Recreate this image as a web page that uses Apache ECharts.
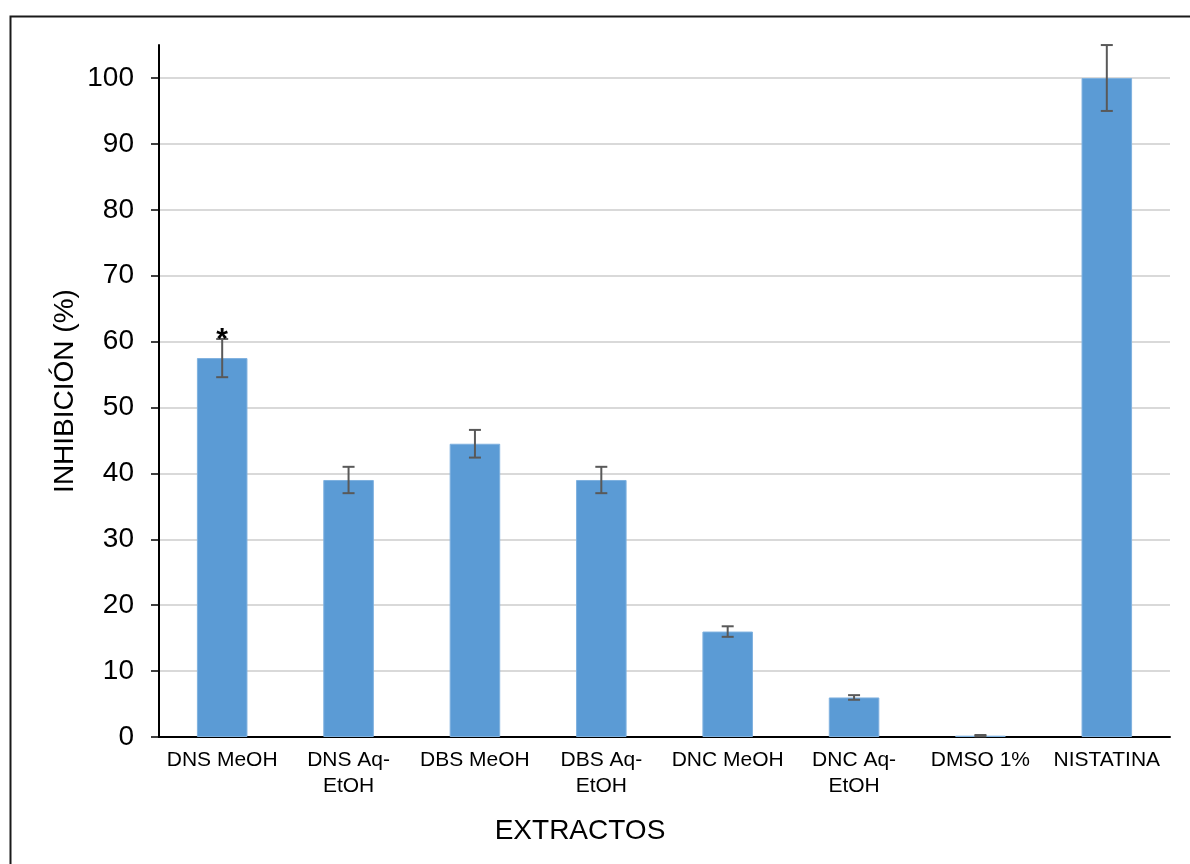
<!DOCTYPE html>
<html>
<head>
<meta charset="utf-8">
<title>Inhibición por extracto</title>
<script src="https://cdn.jsdelivr.net/npm/echarts@6/dist/echarts.min.js"></script>
<style>
  html, body { margin: 0; padding: 0; background: #ffffff; }
  #chart { width: 1190px; height: 864px; }
</style>
</head>
<body>
<div id="chart"></div>
<script>
// Extracts tested and their mean inhibition (%) with standard error
const categories = ['DNS MeOH', 'DNS Aq-\nEtOH', 'DBS MeOH', 'DBS Aq-\nEtOH', 'DNC MeOH', 'DNC Aq-\nEtOH', 'DMSO 1%', 'NISTATINA'];
const inhibition = [57.5, 39.0, 44.5, 39.0, 16.0, 6.0, 0.2, 100];
const errors = [2.9, 2.0, 2.1, 2.0, 0.8, 0.35, 0.1, 5];
const significance = ['*', '', '', '', '', '', '', ''];
const yTicks = { min: 0, max: 100, interval: 10 };
const axisTop = 105;

const FONT = 'Liberation Sans, Arial, sans-serif';
const chart = echarts.init(document.getElementById('chart'));

const errorData = inhibition.map((v, i) => [i, v, errors[i]]);

chart.setOption({
  animation: false,
  backgroundColor: '#ffffff',
  grid: [
    { left: 159, right: 20, top: 78, bottom: 127 },
    { left: 159, right: 20, top: 45, bottom: 127 }
  ],
  xAxis: [
    {
      type: 'category', gridIndex: 0, data: categories,
      axisLine: { lineStyle: { color: '#000000', width: 2 } },
      axisTick: { show: false },
      axisLabel: { color: '#000000', fontFamily: FONT, fontSize: 21, lineHeight: 26, margin: 10, interval: 0 }
    },
    { type: 'category', gridIndex: 1, data: categories, show: false }
  ],
  yAxis: [
    {
      type: 'value', gridIndex: 0,
      min: yTicks.min, max: yTicks.max, interval: yTicks.interval,
      axisLine: { show: true, lineStyle: { color: '#000000', width: 2 } },
      axisTick: { show: true, length: 8, lineStyle: { color: '#000000', width: 1.5 } },
      axisLabel: { color: '#000000', fontFamily: FONT, fontSize: 28, margin: 25 },
      splitLine: { show: true, lineStyle: { color: '#d9d9d9', width: 2 } }
    },
    {
      // upper extension of the vertical axis, carrying the axis title
      type: 'value', gridIndex: 1, min: 0, max: axisTop,
      axisLine: { show: true, lineStyle: { color: '#000000', width: 2 } },
      axisTick: { show: false }, axisLabel: { show: false }, splitLine: { show: false },
      name: 'INHIBICIÓN (%)', nameLocation: 'middle', nameGap: 80,
      nameTextStyle: { color: '#000000', fontFamily: FONT, fontSize: 28 }
    }
  ],
  series: [
    {
      type: 'bar', xAxisIndex: 0, yAxisIndex: 0,
      data: inhibition,
      barCategoryGap: '60%',
      itemStyle: { color: '#5b9bd5', borderColor: '#7fb1df', borderWidth: 1 },
      z: 2
    },
    {
      type: 'custom', xAxisIndex: 0, yAxisIndex: 0,
      data: errorData,
      clip: false,
      z: 5,
      renderItem: function (params, api) {
        const idx = api.value(0);
        const v = api.value(1);
        const e = api.value(2);
        const mark = significance[idx];
        const hi = api.coord([idx, v + e]);
        const lo = api.coord([idx, v - e]);
        const half = 6;
        const style = { stroke: '#595959', lineWidth: 2 };
        const children = [
          { type: 'line', shape: { x1: hi[0], y1: hi[1], x2: lo[0], y2: lo[1] }, style: style },
          { type: 'line', shape: { x1: hi[0] - half, y1: hi[1], x2: hi[0] + half, y2: hi[1] }, style: style },
          { type: 'line', shape: { x1: lo[0] - half, y1: lo[1], x2: lo[0] + half, y2: lo[1] }, style: style }
        ];
        if (mark) {
          children.push({
            type: 'text', x: hi[0], y: hi[1] + 1,
            style: { text: mark, fill: '#000000', font: 'bold 30px ' + FONT, align: 'center', verticalAlign: 'middle' }
          });
        }
        return { type: 'group', children: children };
      }
    }
  ],
  graphic: [
    {
      type: 'rect', left: 8, top: 14, silent: true,
      shape: { width: 1200, height: 900 },
      style: { fill: 'none', stroke: '#1a1a1a', lineWidth: 2 }
    },
    {
      type: 'text', x: 580, y: 831, silent: true,
      style: { text: 'EXTRACTOS', fill: '#000000', font: '28px ' + FONT, align: 'center', verticalAlign: 'middle' }
    }
  ]
});
</script>
</body>
</html>
